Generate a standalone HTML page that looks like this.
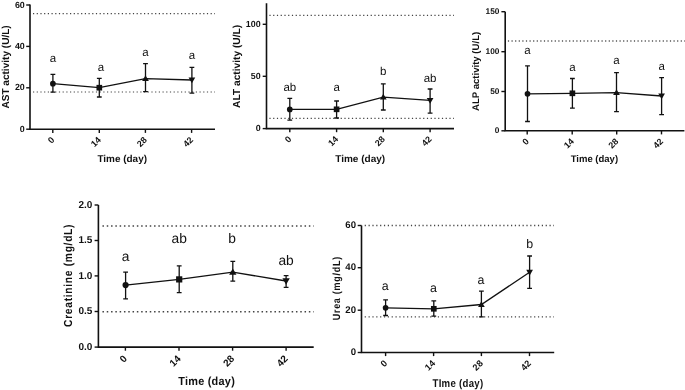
<!DOCTYPE html>
<html><head><meta charset="utf-8"><style>
html,body{margin:0;padding:0;background:#fff;}
body{width:685px;height:390px;overflow:hidden;}
svg{display:block;will-change:transform;}
text{font-family:"Liberation Sans", sans-serif;fill:#111;text-rendering:geometricPrecision;}
</style></head><body>
<svg width="685" height="390" viewBox="0 0 685 390" fill="#111">
<rect width="685" height="390" fill="#fff"/>
<line x1="33" y1="13.6" x2="215" y2="13.6" stroke="#444" stroke-width="1.2" stroke-dasharray="1.2 2.5"/>
<line x1="33" y1="92" x2="215" y2="92" stroke="#444" stroke-width="1.2" stroke-dasharray="1.2 2.5"/>
<path d="M30 4.5V129.3H215" fill="none" stroke="#111" stroke-width="1.6"/>
<line x1="26.2" y1="5" x2="30" y2="5" stroke="#111" stroke-width="1.4"/>
<text x="24.8" y="7.49" font-size="8.9" font-weight="bold" text-anchor="end">60</text>
<line x1="26.2" y1="46.4" x2="30" y2="46.4" stroke="#111" stroke-width="1.4"/>
<text x="24.8" y="48.89" font-size="8.9" font-weight="bold" text-anchor="end">40</text>
<line x1="26.2" y1="87.8" x2="30" y2="87.8" stroke="#111" stroke-width="1.4"/>
<text x="24.8" y="90.29" font-size="8.9" font-weight="bold" text-anchor="end">20</text>
<line x1="26.2" y1="129.2" x2="30" y2="129.2" stroke="#111" stroke-width="1.4"/>
<text x="24.8" y="131.69" font-size="8.9" font-weight="bold" text-anchor="end">0</text>
<line x1="52.8" y1="129.3" x2="52.8" y2="132.9" stroke="#111" stroke-width="1.4"/>
<text transform="translate(55 140.4) rotate(-45)" font-size="8.9" font-weight="bold" text-anchor="end">0</text>
<line x1="99.3" y1="129.3" x2="99.3" y2="132.9" stroke="#111" stroke-width="1.4"/>
<text transform="translate(101.5 140.4) rotate(-45)" font-size="8.9" font-weight="bold" text-anchor="end">14</text>
<line x1="145.4" y1="129.3" x2="145.4" y2="132.9" stroke="#111" stroke-width="1.4"/>
<text transform="translate(147.6 140.4) rotate(-45)" font-size="8.9" font-weight="bold" text-anchor="end">28</text>
<line x1="191.6" y1="129.3" x2="191.6" y2="132.9" stroke="#111" stroke-width="1.4"/>
<text transform="translate(193.8 140.4) rotate(-45)" font-size="8.9" font-weight="bold" text-anchor="end">42</text>
<text x="97.4" y="161.8" font-size="9.9" font-weight="bold" textLength="49.6" lengthAdjust="spacingAndGlyphs">Time (day)</text>
<text transform="translate(9.1 108.6) rotate(-90)" font-size="10.1" font-weight="bold" textLength="83.3" lengthAdjust="spacingAndGlyphs">AST activity (U/L)</text>
<path d="M52.9 83.7L99.3 87.7L145.5 78.6L191.9 80" fill="none" stroke="#111" stroke-width="1.3"/>
<path d="M52.9 74.4V92.2M50.5 74.4H55.3M50.5 92.2H55.3" stroke="#111" stroke-width="1.3" fill="none"/>
<path d="M99.3 78.3V97M96.9 78.3H101.7M96.9 97H101.7" stroke="#111" stroke-width="1.3" fill="none"/>
<path d="M145.5 63.7V91.7M143.1 63.7H147.9M143.1 91.7H147.9" stroke="#111" stroke-width="1.3" fill="none"/>
<path d="M191.9 67.3V93.2M189.5 67.3H194.3M189.5 93.2H194.3" stroke="#111" stroke-width="1.3" fill="none"/>
<circle cx="52.9" cy="83.7" r="2.84"/>
<rect x="96.47" y="84.87" width="5.67" height="5.67"/>
<path d="M145.5 75.24L148.86 81.12L142.14 81.12Z"/>
<path d="M191.9 83.36L195.26 77.48L188.54 77.48Z"/>
<text x="52.9" y="62.4" font-size="11.5" text-anchor="middle" fill="#222">a</text>
<text x="101" y="70.8" font-size="11.5" text-anchor="middle" fill="#222">a</text>
<text x="145.5" y="56.3" font-size="11.5" text-anchor="middle" fill="#222">a</text>
<text x="191.9" y="58.7" font-size="11.5" text-anchor="middle" fill="#222">a</text>
<line x1="269.4" y1="15.4" x2="454" y2="15.4" stroke="#444" stroke-width="1.2" stroke-dasharray="1.2 2.55"/>
<line x1="269.4" y1="118.3" x2="454" y2="118.3" stroke="#444" stroke-width="1.2" stroke-dasharray="1.2 2.55"/>
<path d="M266.5 3.2V128.6H454" fill="none" stroke="#111" stroke-width="1.6"/>
<line x1="262.7" y1="24.3" x2="266.5" y2="24.3" stroke="#111" stroke-width="1.4"/>
<text x="260.6" y="26.79" font-size="8.9" font-weight="bold" text-anchor="end">100</text>
<line x1="262.7" y1="76.3" x2="266.5" y2="76.3" stroke="#111" stroke-width="1.4"/>
<text x="260.6" y="78.79" font-size="8.9" font-weight="bold" text-anchor="end">50</text>
<line x1="262.7" y1="128.6" x2="266.5" y2="128.6" stroke="#111" stroke-width="1.4"/>
<text x="260.6" y="131.09" font-size="8.9" font-weight="bold" text-anchor="end">0</text>
<line x1="289.8" y1="128.6" x2="289.8" y2="132.2" stroke="#111" stroke-width="1.4"/>
<text transform="translate(292 139.7) rotate(-45)" font-size="8.9" font-weight="bold" text-anchor="end">0</text>
<line x1="336.6" y1="128.6" x2="336.6" y2="132.2" stroke="#111" stroke-width="1.4"/>
<text transform="translate(338.8 139.7) rotate(-45)" font-size="8.9" font-weight="bold" text-anchor="end">14</text>
<line x1="383.3" y1="128.6" x2="383.3" y2="132.2" stroke="#111" stroke-width="1.4"/>
<text transform="translate(385.5 139.7) rotate(-45)" font-size="8.9" font-weight="bold" text-anchor="end">28</text>
<line x1="430.1" y1="128.6" x2="430.1" y2="132.2" stroke="#111" stroke-width="1.4"/>
<text transform="translate(432.3 139.7) rotate(-45)" font-size="8.9" font-weight="bold" text-anchor="end">42</text>
<text x="335.2" y="161.8" font-size="9.9" font-weight="bold" textLength="50" lengthAdjust="spacingAndGlyphs">Time (day)</text>
<text transform="translate(240 107.9) rotate(-90)" font-size="10.2" font-weight="bold" textLength="83" lengthAdjust="spacingAndGlyphs">ALT activity (U/L)</text>
<path d="M289.8 109.4L336.6 109.3L383.3 97.1L430.1 100.4" fill="none" stroke="#111" stroke-width="1.3"/>
<path d="M289.8 98.3V120.1M287.4 98.3H292.2M287.4 120.1H292.2" stroke="#111" stroke-width="1.3" fill="none"/>
<path d="M336.6 101V118M334.2 101H339M334.2 118H339" stroke="#111" stroke-width="1.3" fill="none"/>
<path d="M383.3 83.9V110M380.9 83.9H385.7M380.9 110H385.7" stroke="#111" stroke-width="1.3" fill="none"/>
<path d="M430.1 89V113.2M427.7 89H432.5M427.7 113.2H432.5" stroke="#111" stroke-width="1.3" fill="none"/>
<circle cx="289.8" cy="109.4" r="2.84"/>
<rect x="333.77" y="106.47" width="5.67" height="5.67"/>
<path d="M383.3 93.74L386.66 99.62L379.94 99.62Z"/>
<path d="M430.1 103.76L433.46 97.88L426.74 97.88Z"/>
<text x="289.8" y="90.6" font-size="11.5" text-anchor="middle" fill="#222">ab</text>
<text x="336.6" y="90.6" font-size="11.5" text-anchor="middle" fill="#222">a</text>
<text x="383.3" y="74.6" font-size="11.5" text-anchor="middle" fill="#222">b</text>
<text x="430.1" y="82.3" font-size="11.5" text-anchor="middle" fill="#222">ab</text>
<line x1="507.9" y1="41" x2="685" y2="41" stroke="#555" stroke-width="1.5" stroke-dasharray="1.2 2.4"/>
<path d="M505.2 11.7V130.8H684.4" fill="none" stroke="#111" stroke-width="1.6"/>
<line x1="501.4" y1="11.7" x2="505.2" y2="11.7" stroke="#111" stroke-width="1.4"/>
<text x="499.4" y="14.02" font-size="8.3" font-weight="bold" text-anchor="end">150</text>
<line x1="501.4" y1="51.7" x2="505.2" y2="51.7" stroke="#111" stroke-width="1.4"/>
<text x="499.4" y="54.02" font-size="8.3" font-weight="bold" text-anchor="end">100</text>
<line x1="501.4" y1="91.5" x2="505.2" y2="91.5" stroke="#111" stroke-width="1.4"/>
<text x="499.4" y="93.82" font-size="8.3" font-weight="bold" text-anchor="end">50</text>
<line x1="501.4" y1="130.8" x2="505.2" y2="130.8" stroke="#111" stroke-width="1.4"/>
<text x="499.4" y="133.12" font-size="8.3" font-weight="bold" text-anchor="end">0</text>
<line x1="527.2" y1="130.8" x2="527.2" y2="134.4" stroke="#111" stroke-width="1.4"/>
<text transform="translate(529.4 141.9) rotate(-45)" font-size="8.9" font-weight="bold" text-anchor="end">0</text>
<line x1="572.2" y1="130.8" x2="572.2" y2="134.4" stroke="#111" stroke-width="1.4"/>
<text transform="translate(574.4 141.9) rotate(-45)" font-size="8.9" font-weight="bold" text-anchor="end">14</text>
<line x1="616.7" y1="130.8" x2="616.7" y2="134.4" stroke="#111" stroke-width="1.4"/>
<text transform="translate(618.9 141.9) rotate(-45)" font-size="8.9" font-weight="bold" text-anchor="end">28</text>
<line x1="661.5" y1="130.8" x2="661.5" y2="134.4" stroke="#111" stroke-width="1.4"/>
<text transform="translate(663.7 141.9) rotate(-45)" font-size="8.9" font-weight="bold" text-anchor="end">42</text>
<text x="570.7" y="162.1" font-size="9.6" font-weight="bold" textLength="47.4" lengthAdjust="spacingAndGlyphs">Time (day)</text>
<text transform="translate(479.4 111) rotate(-90)" font-size="9.65" font-weight="bold" textLength="79.2" lengthAdjust="spacingAndGlyphs">ALP activity (U/L)</text>
<path d="M527.5 93.8L572.4 93.3L616.5 92.6L661.6 96" fill="none" stroke="#111" stroke-width="1.3"/>
<path d="M527.5 65.9V121.5M525.1 65.9H529.9M525.1 121.5H529.9" stroke="#111" stroke-width="1.3" fill="none"/>
<path d="M572.4 78.5V108.2M570 78.5H574.8M570 108.2H574.8" stroke="#111" stroke-width="1.3" fill="none"/>
<path d="M616.5 72.6V111.6M614.1 72.6H618.9M614.1 111.6H618.9" stroke="#111" stroke-width="1.3" fill="none"/>
<path d="M661.6 77.7V114.7M659.2 77.7H664M659.2 114.7H664" stroke="#111" stroke-width="1.3" fill="none"/>
<circle cx="527.5" cy="93.8" r="2.84"/>
<rect x="569.56" y="90.47" width="5.67" height="5.67"/>
<path d="M616.5 89.24L619.86 95.12L613.14 95.12Z"/>
<path d="M661.6 99.36L664.96 93.48L658.24 93.48Z"/>
<text x="527.5" y="54.1" font-size="11.5" text-anchor="middle" fill="#222">a</text>
<text x="572.4" y="71.3" font-size="11.5" text-anchor="middle" fill="#222">a</text>
<text x="616.5" y="64.3" font-size="11.5" text-anchor="middle" fill="#222">a</text>
<text x="661.6" y="70.3" font-size="11.5" text-anchor="middle" fill="#222">a</text>
<line x1="102.45" y1="226.1" x2="313.7" y2="226.1" stroke="#444" stroke-width="1.5" stroke-dasharray="1.5 2.8"/>
<line x1="102.45" y1="311.8" x2="313.7" y2="311.8" stroke="#444" stroke-width="1.5" stroke-dasharray="1.5 2.8"/>
<path d="M98.4 205V347.1H313.7" fill="none" stroke="#111" stroke-width="1.6"/>
<line x1="94.6" y1="205" x2="98.4" y2="205" stroke="#111" stroke-width="1.4"/>
<text x="92.4" y="207.8" font-size="10" font-weight="bold" text-anchor="end">2.0</text>
<line x1="94.6" y1="240.5" x2="98.4" y2="240.5" stroke="#111" stroke-width="1.4"/>
<text x="92.4" y="243.3" font-size="10" font-weight="bold" text-anchor="end">1.5</text>
<line x1="94.6" y1="275.9" x2="98.4" y2="275.9" stroke="#111" stroke-width="1.4"/>
<text x="92.4" y="278.7" font-size="10" font-weight="bold" text-anchor="end">1.0</text>
<line x1="94.6" y1="311.5" x2="98.4" y2="311.5" stroke="#111" stroke-width="1.4"/>
<text x="92.4" y="314.3" font-size="10" font-weight="bold" text-anchor="end">0.5</text>
<line x1="94.6" y1="347.1" x2="98.4" y2="347.1" stroke="#111" stroke-width="1.4"/>
<text x="92.4" y="349.9" font-size="10" font-weight="bold" text-anchor="end">0.0</text>
<line x1="125.4" y1="347.1" x2="125.4" y2="350.7" stroke="#111" stroke-width="1.4"/>
<text transform="translate(127.8 359.3) rotate(-45)" font-size="10" font-weight="bold" text-anchor="end">0</text>
<line x1="179" y1="347.1" x2="179" y2="350.7" stroke="#111" stroke-width="1.4"/>
<text transform="translate(181.4 359.3) rotate(-45)" font-size="10" font-weight="bold" text-anchor="end">14</text>
<line x1="232.6" y1="347.1" x2="232.6" y2="350.7" stroke="#111" stroke-width="1.4"/>
<text transform="translate(235 359.3) rotate(-45)" font-size="10" font-weight="bold" text-anchor="end">28</text>
<line x1="286.1" y1="347.1" x2="286.1" y2="350.7" stroke="#111" stroke-width="1.4"/>
<text transform="translate(288.5 359.3) rotate(-45)" font-size="10" font-weight="bold" text-anchor="end">42</text>
<text transform="translate(178.2 385) scale(0.94 1)" font-size="11.6" font-weight="bold" textLength="60.21" lengthAdjust="spacing">Time (day)</text>
<text transform="translate(71.8 326.9) rotate(-90) scale(0.88 1)" font-size="11.65" font-weight="bold" textLength="116.36" lengthAdjust="spacing">Creatinine (mg/dL)</text>
<path d="M125.6 285.1L179.2 279.4L232.8 272.1L286.1 281" fill="none" stroke="#111" stroke-width="1.3"/>
<path d="M125.6 272.2V298.9M123.2 272.2H128M123.2 298.9H128" stroke="#111" stroke-width="1.3" fill="none"/>
<path d="M179.2 265.8V292.7M176.8 265.8H181.6M176.8 292.7H181.6" stroke="#111" stroke-width="1.3" fill="none"/>
<path d="M232.8 261.3V281.2M230.4 261.3H235.2M230.4 281.2H235.2" stroke="#111" stroke-width="1.3" fill="none"/>
<path d="M286.1 275.7V287.3M283.7 275.7H288.5M283.7 287.3H288.5" stroke="#111" stroke-width="1.3" fill="none"/>
<circle cx="125.6" cy="285.1" r="3.1"/>
<rect x="176.09" y="276.29" width="6.21" height="6.21"/>
<path d="M232.8 268.42L236.48 274.86L229.12 274.86Z"/>
<path d="M286.1 284.68L289.78 278.24L282.42 278.24Z"/>
<text x="125.6" y="261.2" font-size="13.8" text-anchor="middle" fill="#222">a</text>
<text x="179.2" y="243.2" font-size="13.8" text-anchor="middle" fill="#222">ab</text>
<text x="232" y="243.2" font-size="13.8" text-anchor="middle" fill="#222">b</text>
<text x="286.1" y="264.9" font-size="13.8" text-anchor="middle" fill="#222">ab</text>
<line x1="364.7" y1="225.5" x2="554" y2="225.5" stroke="#444" stroke-width="1.3" stroke-dasharray="1.2 2.65"/>
<line x1="364.7" y1="316.8" x2="554" y2="316.8" stroke="#444" stroke-width="1.3" stroke-dasharray="1.2 2.65"/>
<path d="M361.5 225.5V352.5H554.2" fill="none" stroke="#111" stroke-width="1.6"/>
<line x1="357.7" y1="225.5" x2="361.5" y2="225.5" stroke="#111" stroke-width="1.4"/>
<text x="356" y="228.19" font-size="9.6" font-weight="bold" text-anchor="end">60</text>
<line x1="357.7" y1="267.7" x2="361.5" y2="267.7" stroke="#111" stroke-width="1.4"/>
<text x="356" y="270.39" font-size="9.6" font-weight="bold" text-anchor="end">40</text>
<line x1="357.7" y1="310.2" x2="361.5" y2="310.2" stroke="#111" stroke-width="1.4"/>
<text x="356" y="312.89" font-size="9.6" font-weight="bold" text-anchor="end">20</text>
<line x1="357.7" y1="352.5" x2="361.5" y2="352.5" stroke="#111" stroke-width="1.4"/>
<text x="356" y="355.19" font-size="9.6" font-weight="bold" text-anchor="end">0</text>
<line x1="385.6" y1="352.5" x2="385.6" y2="356.1" stroke="#111" stroke-width="1.4"/>
<text transform="translate(387.8 363.9) rotate(-45)" font-size="9.2" font-weight="bold" text-anchor="end">0</text>
<line x1="433.6" y1="352.5" x2="433.6" y2="356.1" stroke="#111" stroke-width="1.4"/>
<text transform="translate(435.8 363.9) rotate(-45)" font-size="9.2" font-weight="bold" text-anchor="end">14</text>
<line x1="481.4" y1="352.5" x2="481.4" y2="356.1" stroke="#111" stroke-width="1.4"/>
<text transform="translate(483.6 363.9) rotate(-45)" font-size="9.2" font-weight="bold" text-anchor="end">28</text>
<line x1="529.5" y1="352.5" x2="529.5" y2="356.1" stroke="#111" stroke-width="1.4"/>
<text transform="translate(531.7 363.9) rotate(-45)" font-size="9.2" font-weight="bold" text-anchor="end">42</text>
<text transform="translate(432.5 386.5) scale(0.86 1)" font-size="11.2" font-weight="bold" textLength="58.95" lengthAdjust="spacing">TIme (day)</text>
<text transform="translate(339.6 320.3) rotate(-90) scale(0.86 1)" font-size="10.4" font-weight="bold" textLength="73.84" lengthAdjust="spacing">Urea (mg/dL)</text>
<path d="M385.6 307.8L433.8 308.8L481.4 304.5L529.6 272.3" fill="none" stroke="#111" stroke-width="1.3"/>
<path d="M385.6 299.9V315.5M383.2 299.9H388M383.2 315.5H388" stroke="#111" stroke-width="1.3" fill="none"/>
<path d="M433.8 300.8V316.2M431.4 300.8H436.2M431.4 316.2H436.2" stroke="#111" stroke-width="1.3" fill="none"/>
<path d="M481.4 291.2V316.8M479 291.2H483.8M479 316.8H483.8" stroke="#111" stroke-width="1.3" fill="none"/>
<path d="M529.6 256V288.3M527.2 256H532M527.2 288.3H532" stroke="#111" stroke-width="1.3" fill="none"/>
<circle cx="385.6" cy="307.8" r="2.84"/>
<rect x="430.97" y="305.97" width="5.67" height="5.67"/>
<path d="M481.4 301.14L484.76 307.02L478.04 307.02Z"/>
<path d="M529.6 275.66L532.96 269.78L526.24 269.78Z"/>
<text x="385.3" y="290.4" font-size="12.4" text-anchor="middle" fill="#222">a</text>
<text x="433.4" y="291.8" font-size="12.4" text-anchor="middle" fill="#222">a</text>
<text x="481" y="283.7" font-size="12.4" text-anchor="middle" fill="#222">a</text>
<text x="529.6" y="248" font-size="12.4" text-anchor="middle" fill="#222">b</text>
</svg>
</body></html>
